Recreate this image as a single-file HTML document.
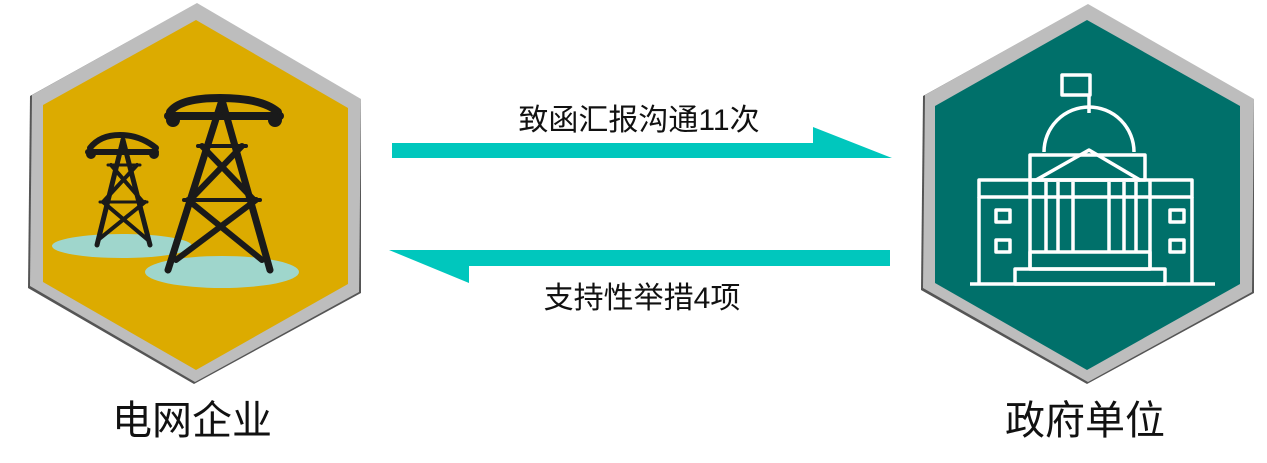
<!DOCTYPE html>
<html><head><meta charset="utf-8"><style>
html,body{margin:0;padding:0;background:#fff;}
svg{display:block;}
text{font-family:"Liberation Sans","Noto Sans CJK SC",sans-serif;}
</style></head><body>
<svg width="1267" height="463" viewBox="0 0 1267 463" xmlns="http://www.w3.org/2000/svg">
<polygon points="196,4 361,100 361,293 194,384 28,288 30,96" fill="#555"/>
<polygon points="197,3 361,99 359,292 195,382 30,286 32,95" fill="#bdbdbd"/>
<polygon points="196,20 348,108 348,284 196,370 43,282 43,105" fill="#dcab00"/>
<ellipse cx="122" cy="246" rx="70" ry="12" fill="#9fd6cc"/>
<ellipse cx="222" cy="272" rx="77" ry="16" fill="#9fd6cc"/>
<g stroke="#1a1a1a" stroke-width="5" fill="none" stroke-linecap="round">
<path d="M90,148 Q100,135 120,135 Q140,135 156,148" stroke-width="6"/>
<line x1="88" y1="152" x2="156" y2="152" stroke-width="6"/>
<line x1="123" y1="140" x2="97" y2="245"/>
<line x1="123" y1="140" x2="150" y2="245"/>
<line x1="108" y1="165" x2="140" y2="165" stroke-width="3"/>
<line x1="100" y1="202" x2="147" y2="202" stroke-width="3"/>
<line x1="111" y1="165" x2="143" y2="202" stroke-width="4"/>
<line x1="137" y1="165" x2="103" y2="202" stroke-width="4"/>
<line x1="103" y1="202" x2="148" y2="240" stroke-width="4"/>
<line x1="145" y1="202" x2="98" y2="240" stroke-width="4"/>
</g>
<circle cx="91" cy="154" r="5" fill="#1a1a1a"/><circle cx="154" cy="154" r="5" fill="#1a1a1a"/>
<g stroke="#1a1a1a" stroke-width="7" fill="none" stroke-linecap="round">
<path d="M170,112 Q180,98 220,98 Q262,98 278,112" stroke-width="8"/>
<line x1="168" y1="116" x2="280" y2="116" stroke-width="8"/>
<line x1="222" y1="100" x2="168" y2="270"/>
<line x1="222" y1="100" x2="270" y2="270"/>
<line x1="198" y1="146" x2="246" y2="146" stroke-width="4"/>
<line x1="184" y1="200" x2="260" y2="200" stroke-width="4"/>
<line x1="202" y1="146" x2="254" y2="200" stroke-width="6"/>
<line x1="242" y1="146" x2="190" y2="200" stroke-width="6"/>
<line x1="188" y1="200" x2="262" y2="260" stroke-width="6"/>
<line x1="256" y1="200" x2="176" y2="260" stroke-width="6"/>
</g>
<circle cx="173" cy="120" r="7" fill="#1a1a1a"/><circle cx="275" cy="120" r="7" fill="#1a1a1a"/>

<polygon points="1087,5 1254,100 1254,293 1087,384 921,290 923,96" fill="#555"/>
<polygon points="1088,4 1254,99 1252,292 1088,382 923,288 925,95" fill="#bdbdbd"/>
<polygon points="1087,20 1240,106 1240,284 1087,370 935,283 935,106" fill="#00706a"/>
<g stroke="#fff" stroke-width="3.5" fill="none" stroke-linejoin="round">
<rect x="1062" y="75" width="28" height="20"/>
<line x1="1089" y1="95" x2="1089" y2="113"/>
<path d="M1044,152 A45,45 0 0 1 1134,152"/>
<rect x="1030" y="155" width="115" height="25"/>
<polygon points="1036,180 1089,150 1140,180"/>
<rect x="979" y="180" width="213" height="17"/>
<line x1="979" y1="197" x2="979" y2="284"/>
<line x1="1192" y1="197" x2="1192" y2="284"/>
<line x1="1030" y1="180" x2="1030" y2="270"/>
<line x1="1150" y1="180" x2="1150" y2="270"/>
<line x1="1046" y1="182" x2="1046" y2="252"/>
<line x1="1058" y1="182" x2="1058" y2="252"/>
<line x1="1073" y1="182" x2="1073" y2="252"/>
<line x1="1109" y1="182" x2="1109" y2="252"/>
<line x1="1124" y1="182" x2="1124" y2="252"/>
<line x1="1136" y1="182" x2="1136" y2="252"/>
<rect x="1030" y="252" width="120" height="17"/>
<rect x="1015" y="269" width="150" height="15"/>
<line x1="970" y1="284" x2="1215" y2="284"/>
<rect x="996" y="210" width="14" height="12"/>
<rect x="996" y="240" width="14" height="12"/>
<rect x="1170" y="210" width="14" height="12"/>
<rect x="1170" y="240" width="14" height="12"/>
</g>

<polygon points="392,143 813,143 813,127 892,158 392,158" fill="#00c7bd"/>
<polygon points="890,250 389,250 469,283 469,266 890,266" fill="#00c7bd"/>

<text x="639" y="130" font-size="30" text-anchor="middle" fill="#111">致函汇报沟通11次</text>
<text x="642" y="308" font-size="30" text-anchor="middle" fill="#111">支持性举措4项</text>
<text x="192" y="434" font-size="40" text-anchor="middle" fill="#111">电网企业</text>
<text x="1085" y="434" font-size="40" text-anchor="middle" fill="#111">政府单位</text>
</svg>
</body></html>
